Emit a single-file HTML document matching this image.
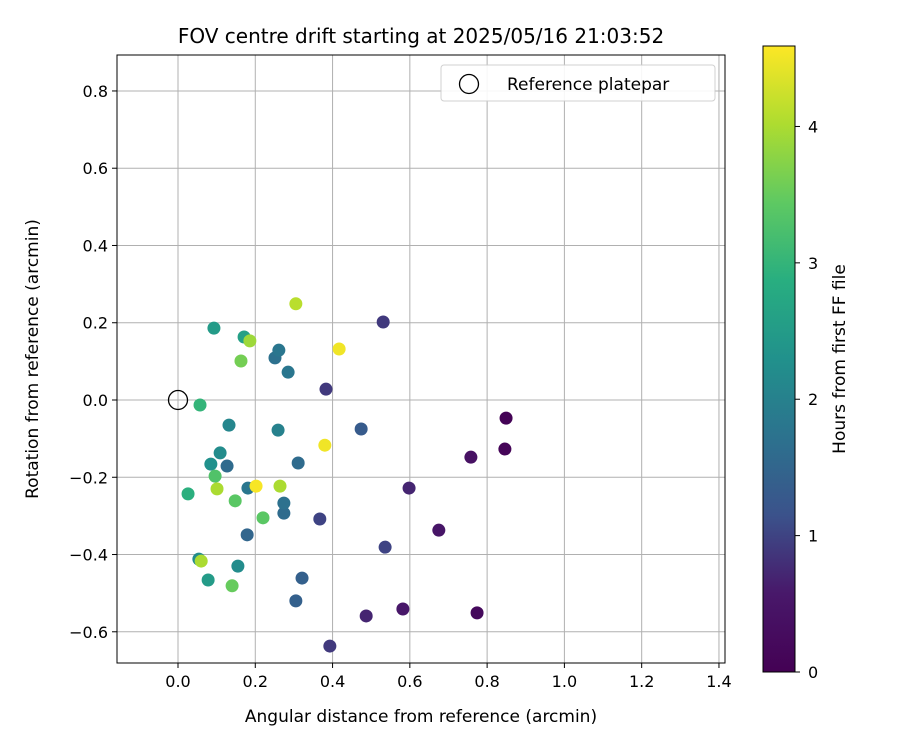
<!DOCTYPE html>
<html><head><meta charset="utf-8"><style>
body{margin:0;background:#fff;font-family:"Liberation Sans","DejaVu Sans",sans-serif}
svg text{font-family:"DejaVu Sans","Liberation Sans",sans-serif}
</style></head><body>
<svg id="chart" width="900" height="750" xmlns="http://www.w3.org/2000/svg">
<defs><linearGradient id="vir" x1="0" y1="1" x2="0" y2="0">
<stop offset="0" stop-color="#440154"/><stop offset="0.125" stop-color="#48186a"/><stop offset="0.25" stop-color="#3b528b"/><stop offset="0.375" stop-color="#2c728e"/><stop offset="0.5" stop-color="#21918c"/><stop offset="0.625" stop-color="#28ae80"/><stop offset="0.75" stop-color="#5ec962"/><stop offset="0.875" stop-color="#addc30"/><stop offset="1" stop-color="#fde725"/>
</linearGradient></defs>
<text x="421" y="43" font-size="20" text-anchor="middle">FOV centre drift starting at 2025/05/16 21:03:52</text>
<g id="grid"></g><g id="pts"></g>
<rect x="117" y="55" width="608" height="608" fill="none" stroke="#000" stroke-width="1"/>
<g id="ticks"></g>
<text x="421" y="722" font-size="17" text-anchor="middle">Angular distance from reference (arcmin)</text>
<text transform="translate(38,359) rotate(-90)" font-size="17" text-anchor="middle">Rotation from reference (arcmin)</text>
<g>
<rect x="441" y="65" width="274" height="36" rx="3" fill="#fff" stroke="#ccc" opacity="0.9"/>
<circle cx="469" cy="84" r="9.5" fill="none" stroke="#000" stroke-width="1.3"/>
<text x="507" y="90" font-size="17">Reference platepar</text>
</g>
<rect x="763" y="46" width="32" height="626" fill="url(#vir)" stroke="#000"/>
<g id="cbt"></g>
<text transform="translate(845,359) rotate(-90)" font-size="17" text-anchor="middle">Hours from first FF file</text>
</svg>
<script>
const xTicks=[0.0,0.2,0.4,0.6,0.8,1.0,1.2,1.4];
const yTicks=[-0.6,-0.4,-0.2,0.0,0.2,0.4,0.6,0.8];
const cbTicks=[0,1,2,3,4];
const xVals=[0.849,0.846,0.774,0.758,0.675,0.582,0.487,0.536,0.598,0.531,0.393,0.383,0.367,0.474,0.321,0.305,0.311,0.179,0.274,0.274,0.127,0.251,0.261,0.285,0.181,0.259,0.132,0.109,0.085,0.155,0.054,0.078,0.093,0.171,0.026,0.057,0.096,0.148,0.220,0.140,0.163,0.186,0.101,0.060,0.264,0.305,0.380,0.417,0.202];
const yVals=[-0.047,-0.127,-0.551,-0.148,-0.337,-0.541,-0.559,-0.381,-0.228,0.202,-0.637,0.028,-0.308,-0.075,-0.461,-0.520,-0.163,-0.349,-0.293,-0.267,-0.171,0.109,0.129,0.072,-0.228,-0.078,-0.065,-0.137,-0.166,-0.430,-0.412,-0.466,0.186,0.163,-0.243,-0.013,-0.197,-0.261,-0.305,-0.481,0.101,0.153,-0.230,-0.417,-0.223,0.249,-0.117,0.132,-0.223];
const hours=[0.05,0.1,0.2,0.4,0.5,0.55,0.7,1.0,0.7,0.9,0.9,0.9,1.0,1.3,1.4,1.4,1.6,1.5,1.6,1.7,1.6,1.7,1.8,1.8,1.8,2.0,2.1,2.2,2.3,2.2,2.2,2.5,2.5,2.6,2.9,3.0,3.3,3.4,3.4,3.5,3.6,3.9,4.0,4.0,4.0,4.1,4.5,4.5,4.55];
const X0=178,XS=386.4,Y0=400,YS=386.3,HMAX=4.59,CB0=672,CBH=626;
const sx=v=>X0+v*XS, sy=v=>Y0-v*YS;
const NS="http://www.w3.org/2000/svg";
function mk(tag,attrs,parent,txt){const e=document.createElementNS(NS,tag);for(const k in attrs)e.setAttribute(k,attrs[k]);if(txt!==undefined)e.textContent=txt;parent.appendChild(e);return e;}
const vir=[[68,1,84],[72,24,106],[59,82,139],[44,114,142],[33,145,140],[40,174,128],[94,201,98],[173,220,48],[253,231,37]];
function cmap(t){t=Math.max(0,Math.min(1,t))*8;const i=Math.min(7,Math.floor(t)),f=t-i;const a=vir[i],b=vir[i+1];return `rgb(${a.map((c,j)=>Math.round(c+(b[j]-c)*f)).join(',')})`;}
const g=document.getElementById('grid'),tk=document.getElementById('ticks'),pts=document.getElementById('pts'),cb=document.getElementById('cbt');
xTicks.forEach(v=>{const x=sx(v);
const l=mk('line',{x1:x,x2:x,y1:55,y2:663,stroke:'#b0b0b0','stroke-width':1},g);


mk('line',{x1:x,x2:x,y1:663,y2:668,stroke:'#000'},tk);
const t=mk('text',{x:x,y:687,'font-size':16,'text-anchor':'middle'},tk,v.toFixed(1));

});
yTicks.forEach(v=>{const y=sy(v);
const l=mk('line',{x1:117,x2:725,y1:y,y2:y,stroke:'#b0b0b0','stroke-width':1},g);


mk('line',{x1:112,x2:117,y1:y,y2:y,stroke:'#000'},tk);
const t=mk('text',{x:108,y:y+6,'font-size':16,'text-anchor':'end'},tk,(v<0?'\u2212':'')+Math.abs(v).toFixed(1));

});
const ref=mk('circle',{cx:sx(0),cy:sy(0),r:9.5,fill:'none',stroke:'#000','stroke-width':1.3},pts);


xVals.forEach((v,i)=>{const c=mk('circle',{cx:sx(v),cy:sy(yVals[i]),r:6.5,fill:cmap(hours[i]/HMAX)},pts);

});
cbTicks.forEach(v=>{const y=CB0-v/HMAX*CBH;
mk('line',{x1:795,x2:800,y1:y,y2:y,stroke:'#000'},cb);
const t=mk('text',{x:808,y:y+6,'font-size':16},cb,String(v));

});
</script>
</body></html>
